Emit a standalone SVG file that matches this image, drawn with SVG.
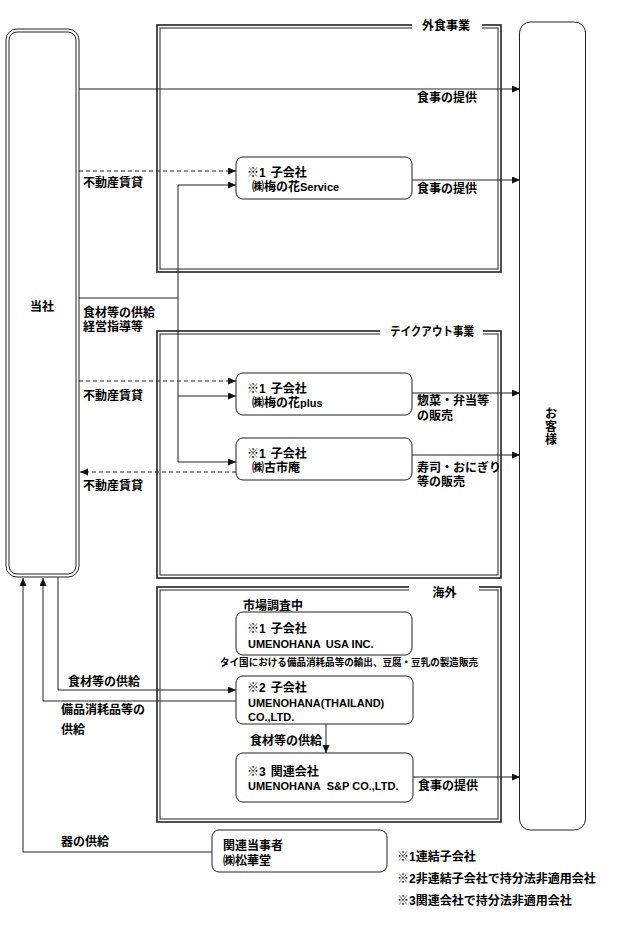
<svg xmlns="http://www.w3.org/2000/svg" width="617" height="926" viewBox="0 0 617 926">
<style>
.t{font-family:"Liberation Sans","Noto Sans CJK JP",sans-serif;font-size:12px;font-weight:bold;fill:#000}
.l{font-size:11px}
.s{font-size:10px}
.box{fill:#fff;stroke:#222;stroke-width:1}
.fo{fill:none;stroke:#222;stroke-width:1.6}
.fi{fill:none;stroke:#222;stroke-width:1}
.c{fill:none;stroke:#222;stroke-width:1}
.a{marker-end:url(#ah)}
.d{stroke-dasharray:4 3}
</style>
<defs>
<marker id="ah" markerUnits="userSpaceOnUse" markerWidth="9" markerHeight="8" refX="8" refY="3.5" orient="auto">
<path d="M0,0 L8,3.5 L0,7 z" fill="#111"/>
</marker>
</defs>
<rect width="617" height="926" fill="#fff"/>

<g id="frame-gaishoku">
<rect class="fo" x="157" y="25" width="344" height="247"/>
<rect class="fi" x="160" y="28" width="338" height="241"/>
<rect x="412" y="20" width="70" height="12" fill="#fff"/>
<text class="t" x="446" y="30" text-anchor="middle">外食事業</text>
</g>
<g id="frame-takeout">
<rect class="fo" x="157" y="331" width="344" height="247"/>
<rect class="fi" x="160" y="334" width="338" height="241"/>
<rect x="380" y="326" width="103" height="12" fill="#fff"/>
<text class="t" x="390" y="336" textLength="84" lengthAdjust="spacingAndGlyphs">テイクアウト事業</text>
</g>
<g id="frame-kaigai">
<rect class="fo" x="157" y="587" width="344" height="235"/>
<rect class="fi" x="160" y="590" width="338" height="229"/>
<rect x="409" y="582" width="70" height="12" fill="#fff"/>
<text class="t" x="444.5" y="597" text-anchor="middle">海外</text>
</g>

<g id="connectors">
<path class="c a" d="M79,89 H520"/>
<path class="c a d" d="M79,171 H236"/>
<path class="c" d="M79,298 H178"/>
<path class="c a" d="M178,298 V185 H236"/>
<path class="c a" d="M178,396 H236"/>
<path class="c a" d="M178,298 V462 H236"/>
<path class="c a" d="M412,180 H520"/>
<path class="c a d" d="M79,381 H236"/>
<path class="c a" d="M412,393 H520"/>
<path class="c a" d="M412,455 H520"/>
<path class="c a d" d="M236,472 H80"/>
<path class="c a" d="M58,577 V690 H236"/>
<path class="c a" d="M236,701 H43 V578"/>
<path class="c a" d="M212,852 H23 V578"/>
<path class="c a" d="M326,724 V753"/>
<path class="c a" d="M413,777 H520"/>
</g>

<g id="tosha">
<rect class="box" x="6" y="29" width="73" height="548" rx="11"/>
<rect class="fi" x="9" y="32" width="67" height="542" rx="8"/>
<text class="t" x="42" y="311" text-anchor="middle">当社</text>
</g>

<g id="okyakusama">
<rect class="box" x="519.5" y="22" width="66" height="808" rx="11"/>
<text class="t" x="551" y="418" text-anchor="middle">お</text>
<text class="t" x="551" y="431" text-anchor="middle">客</text>
<text class="t" x="551" y="444" text-anchor="middle">様</text>
</g>

<g id="node-service">
<rect class="box" x="236" y="157" width="176" height="42" rx="7"/>
<text class="t" x="247" y="177">※1<tspan dx="5">子会社</tspan></text>
<text class="t" x="252" y="191">㈱梅の花<tspan class="l">Service</tspan></text>
</g>
<g id="node-plus">
<rect class="box" x="236" y="373" width="176" height="42" rx="7"/>
<text class="t" x="247" y="393">※1<tspan dx="5">子会社</tspan></text>
<text class="t" x="252" y="407">㈱梅の花<tspan class="l">plus</tspan></text>
</g>
<g id="node-furuichian">
<rect class="box" x="236" y="438" width="176" height="42" rx="7"/>
<text class="t" x="247" y="458">※1<tspan dx="5">子会社</tspan></text>
<text class="t" x="252" y="472">㈱古市庵</text>
</g>
<g id="node-usa">
<rect class="box" x="236" y="612" width="176" height="43" rx="7"/>
<text class="t" x="247" y="633">※1<tspan dx="5">子会社</tspan></text>
<text class="t l" x="248" y="648">UMENOHANA<tspan dx="5">USA INC.</tspan></text>
</g>
<g id="node-thailand">
<rect class="box" x="236" y="676" width="177" height="48" rx="7"/>
<text class="t" x="247" y="692">※2<tspan dx="5">子会社</tspan></text>
<text class="t l" x="248" y="707">UMENOHANA(THAILAND)</text>
<text class="t l" x="248" y="721">CO.,LTD.</text>
</g>
<g id="node-sp">
<rect class="box" x="236" y="753" width="177" height="49" rx="7"/>
<text class="t" x="247" y="776">※3<tspan dx="5">関連会社</tspan></text>
<text class="t l" x="248" y="790">UMENOHANA<tspan dx="6">S&amp;P CO.,LTD.</tspan></text>
</g>
<g id="node-shokado">
<rect class="box" x="212" y="830" width="175" height="42" rx="7"/>
<text class="t" x="223" y="850">関連当事者</text>
<text class="t" x="223" y="865">㈱松華堂</text>
</g>

<g id="labels">
<text class="t" x="417" y="102">食事の提供</text>
<text class="t" x="83" y="187">不動産賃貸</text>
<text class="t" x="417" y="193">食事の提供</text>
<text class="t" x="83" y="317">食材等の供給</text>
<text class="t" x="83" y="331">経営指導等</text>
<text class="t" x="83" y="400">不動産賃貸</text>
<text class="t" x="417" y="405">惣菜・弁当等</text>
<text class="t" x="417" y="420">の販売</text>
<text class="t" x="417" y="472">寿司・おにぎり</text>
<text class="t" x="417" y="486">等の販売</text>
<text class="t" x="83" y="490">不動産賃貸</text>
<text class="t" x="243" y="610">市場調査中</text>
<text class="t s" x="220" y="666" textLength="258" lengthAdjust="spacingAndGlyphs">タイ国における備品消耗品等の輸出、豆腐・豆乳の製造販売</text>
<text class="t" x="68" y="686">食材等の供給</text>
<text class="t" x="61" y="714">備品消耗品等の</text>
<text class="t" x="61" y="734">供給</text>
<text class="t" x="250" y="745">食材等の供給</text>
<text class="t" x="418" y="790">食事の提供</text>
<text class="t" x="61" y="846">器の供給</text>
<text class="t" x="397" y="861">※1連結子会社</text>
<text class="t" x="397" y="883">※2非連結子会社で持分法非適用会社</text>
<text class="t" x="397" y="905">※3関連会社で持分法非適用会社</text>
</g>
</svg>
